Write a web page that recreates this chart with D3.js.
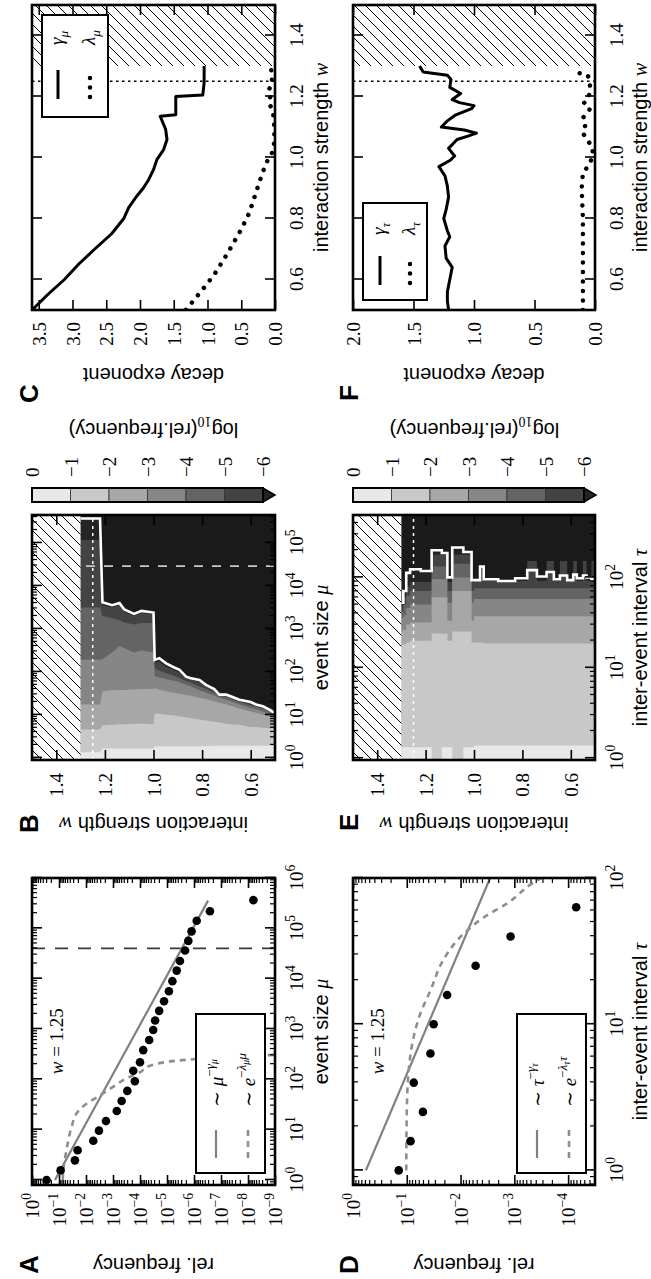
<!DOCTYPE html>
<html lang="en">
<head>
<meta charset="UTF-8">
<title>Event statistics vs interaction strength</title>
<script src="https://d3js.org/d3.v7.min.js"></script>
<style>
  body { margin: 0; background: #fff; }
  .frame { fill: none; stroke: #000; stroke-width: 2.6px; }
</style>
</head>
<body>
<svg id="fig" width="651" height="1279"></svg>
<script>
// ---------------- data (log10 values where noted) ----------------
// A: event size distribution at w = 1.25
const sizeLogMu   = [0.00, 0.19, 0.39, 0.59, 0.78, 0.98, 1.17, 1.37, 1.57, 1.77, 1.96, 2.17, 2.34, 2.58, 2.78,
                     2.98, 3.17, 3.36, 3.55, 3.75, 3.95, 4.16, 4.35, 4.56, 4.75, 4.94, 5.15, 5.34, 5.56];
const sizeLogFreq = [-0.54, -1.06, -1.59, -1.69, -2.27, -2.48, -2.74, -3.14, -3.32, -3.53, -3.81, -3.75, -4.00, -4.12, -4.34,
                     -4.49, -4.56, -4.71, -4.89, -5.07, -5.20, -5.36, -5.48, -5.67, -5.79, -5.91, -6.10, -6.59, -8.20];
const sizePowFitX = [0.0, 5.55];
const sizePowFitY = [-0.85, -6.52];
const sizeExpFitX = [0.0, 0.21, 0.6, 1.06, 1.33, 1.52, 1.68, 1.85, 2.02, 2.14, 2.27, 2.4, 2.5];
const sizeExpFitY = [-1.14, -1.16, -1.28, -1.47, -1.66, -2.03, -2.52, -3.0, -3.5, -4.0, -4.37, -6.0, -9.5];
const sizeCutA = 4.6;

// D: inter-event interval distribution at w = 1.25
const ivLogTau  = [0.0, 0.2, 0.4, 0.6, 0.8, 1.0, 1.2, 1.4, 1.6, 1.8];
const ivLogFreq = [-0.85, -1.07, -1.30, -1.13, -1.44, -1.50, -1.75, -2.28, -2.93, -4.15];
const ivPowFitX = [0.0, 2.0];
const ivPowFitY = [-0.24, -2.55];
const ivExpFitX = [0.0, 0.4, 0.7, 0.9, 1.07, 1.23, 1.44, 1.62, 1.73, 1.83, 1.97, 2.0];
const ivExpFitY = [-0.99, -1.0, -1.04, -1.12, -1.25, -1.44, -1.68, -2.06, -2.43, -2.88, -3.36, -3.5];

// C: decay exponents of event size distribution
const wGammaMu = [0.50, 0.55, 0.60, 0.65, 0.70, 0.75, 0.80, 0.835, 0.873, 0.90, 0.928, 0.96, 0.993, 1.026,
                  1.059, 1.092, 1.119, 1.135, 1.14, 1.20, 1.205, 1.245, 1.30];
const gammaMu  = [3.60, 3.37, 3.12, 2.91, 2.67, 2.42, 2.24, 2.17, 2.05, 1.95, 1.87, 1.80, 1.75, 1.65,
                  1.60, 1.62, 1.67, 1.70, 1.47, 1.47, 1.07, 1.05, 1.05];
const wLambdaMu = [0.50, 0.56, 0.616, 0.687, 0.764, 0.819, 0.873, 0.94, 0.983, 1.01, 1.05, 1.10, 1.15, 1.18,
                   1.20, 1.22, 1.24, 1.27, 1.30];
const lambdaMu  = [1.32, 1.10, 0.90, 0.70, 0.50, 0.38, 0.30, 0.20, 0.13, 0.05, 0.01, 0.01, 0.03, 0.09,
                   0.07, 0.10, 0.04, 0.05, 0.06];

// F: decay exponents of inter-event interval distribution
const wGammaTau = [0.50, 0.53, 0.56, 0.60, 0.64, 0.67, 0.71, 0.74, 0.76, 0.80, 0.83, 0.87, 0.906, 0.94, 0.97,
                   0.99, 1.005, 1.03, 1.059, 1.07, 1.08, 1.09, 1.10, 1.12, 1.14, 1.16, 1.17, 1.18, 1.19, 1.21,
                   1.23, 1.256, 1.27, 1.28, 1.30];
const gammaTau  = [1.21, 1.22, 1.22, 1.20, 1.18, 1.23, 1.24, 1.20, 1.22, 1.25, 1.23, 1.21, 1.22, 1.24, 1.29,
                   1.20, 1.16, 1.21, 1.14, 1.05, 0.98, 1.08, 1.27, 1.22, 1.15, 1.02, 1.00, 1.12, 1.18, 1.11,
                   1.20, 1.19, 1.22, 1.42, 1.45];
const wLambdaTau = [0.50, 0.60, 0.70, 0.80, 0.90, 0.95, 0.97, 1.00, 1.03, 1.05, 1.08, 1.10, 1.13, 1.16, 1.18,
                    1.20, 1.23, 1.26, 1.27, 1.28];
const lambdaTau  = [0.10, 0.10, 0.10, 0.10, 0.11, 0.10, 0.06, 0.02, 0.02, 0.05, 0.10, 0.08, 0.10, 0.04, 0.09,
                    0.05, 0.04, 0.05, 0.06, 0.17];

// B: log10(event size) where log10(rel. frequency) crosses -1 ... -6, and the white limit line
const wB   = [0.50, 0.523, 0.55, 0.578, 0.60, 0.646, 0.70, 0.729, 0.75, 0.784, 0.811, 0.85, 0.866, 0.893, 0.921,
              0.948, 0.976, 0.995, 1.00, 1.05, 1.08, 1.12, 1.14, 1.17, 1.21, 1.22, 1.26, 1.30];
const muB1 = [0.28, 0.28, 0.28, 0.28, 0.28, 0.28, 0.28, 0.28, 0.28, 0.27, 0.27, 0.27, 0.27, 0.27, 0.27,
              0.27, 0.27, 0.27, 0.22, 0.22, 0.22, 0.22, 0.22, 0.22, 0.22, 0.13, 0.13, 0.13];
const muB2 = [0.68, 0.69, 0.70, 0.72, 0.72, 0.77, 0.79, 0.82, 0.84, 0.87, 0.89, 0.93, 0.94, 0.97, 0.99,
              1.00, 1.02, 1.04, 0.78, 0.80, 0.79, 0.78, 0.78, 0.77, 0.75, 0.66, 0.66, 0.66];
const muB3 = [0.93, 0.96, 1.00, 1.05, 1.08, 1.15, 1.24, 1.28, 1.31, 1.37, 1.40, 1.45, 1.46, 1.49, 1.52,
              1.55, 1.59, 1.62, 1.60, 1.60, 1.59, 1.58, 1.58, 1.57, 1.55, 1.24, 1.24, 1.24];
const muB4 = [1.01, 1.04, 1.08, 1.13, 1.16, 1.24, 1.35, 1.40, 1.45, 1.52, 1.57, 1.67, 1.70, 1.76, 1.80,
              1.83, 1.87, 1.89, 2.45, 2.50, 2.45, 2.55, 2.60, 2.45, 2.30, 2.28, 2.28, 2.28];
const muB5 = [1.06, 1.09, 1.14, 1.19, 1.22, 1.30, 1.41, 1.46, 1.52, 1.60, 1.66, 1.76, 1.78, 1.86, 1.92,
              1.97, 2.03, 2.08, 3.14, 3.14, 3.10, 3.15, 3.20, 3.25, 3.30, 3.50, 3.50, 3.50];
const muB6 = [1.02, 1.10, 1.19, 1.22, 1.27, 1.33, 1.45, 1.47, 1.58, 1.66, 1.76, 1.84, 1.85, 1.98, 2.06,
              2.12, 2.24, 2.22, 3.33, 3.37, 3.30, 3.40, 3.55, 3.50, 3.55, 5.07, 5.07, 5.07];
const muBMax = [1.04, 1.12, 1.20, 1.24, 1.30, 1.35, 1.47, 1.47, 1.60, 1.70, 1.81, 1.86, 1.89, 2.05, 2.12,
                2.20, 2.32, 2.28, 3.38, 3.42, 3.35, 3.45, 3.60, 3.55, 3.62, 5.57, 5.57, 5.57];
const muCutB = 4.46;

// E: same for log10(inter-event interval); each row holds from its w up to the next row
const wE    = [0.50, 0.515, 0.535, 0.55, 0.575, 0.59, 0.615, 0.645, 0.67, 0.70, 0.74, 0.78, 0.83, 0.90, 0.96, 0.975,
               1.00, 1.01, 1.044, 1.09, 1.11, 1.133, 1.175, 1.22, 1.264, 1.28, 1.292, 1.30];
const tauE1 = [0.14, 0.14, 0.14, 0.14, 0.14, 0.14, 0.14, 0.14, 0.14, 0.14, 0.14, 0.14, 0.14, 0.14, 0.14, 0.14,
               0.12, 0.12, -0.1, 0.12, 0.12, -0.1, 0.12, 0.12, 0.12, 0.12, 0.12, 0.12];
const tauE2 = [1.27, 1.27, 1.27, 1.27, 1.27, 1.27, 1.27, 1.27, 1.27, 1.27, 1.27, 1.27, 1.27, 1.27, 1.28, 1.28,
               1.28, 1.40, 1.40, 1.30, 1.38, 1.38, 1.30, 1.30, 1.28, 1.26, 1.25, 1.25];
const tauE3 = [1.57, 1.57, 1.57, 1.57, 1.57, 1.57, 1.57, 1.57, 1.57, 1.57, 1.57, 1.57, 1.57, 1.57, 1.57, 1.57,
               1.52, 1.85, 1.85, 1.52, 1.78, 1.78, 1.50, 1.50, 1.48, 1.42, 1.40, 1.40];
const tauE4 = [1.76, 1.76, 1.76, 1.76, 1.76, 1.76, 1.76, 1.76, 1.76, 1.76, 1.76, 1.76, 1.76, 1.76, 1.76, 1.76,
               1.72, 2.00, 2.00, 1.72, 1.98, 1.98, 1.70, 1.70, 1.66, 1.58, 1.55, 1.55];
const tauE5 = [1.88, 1.88, 1.88, 1.88, 1.88, 1.88, 1.88, 1.88, 1.88, 1.88, 1.88, 1.88, 1.88, 1.88, 1.88, 1.88,
               1.85, 2.15, 2.15, 1.85, 2.12, 2.12, 1.85, 1.85, 1.80, 1.70, 1.62, 1.62];
const tauE6 = [2.18, 1.96, 2.18, 1.96, 2.18, 1.96, 2.18, 1.96, 2.18, 1.96, 2.18, 1.96, 1.96, 1.96, 1.97, 1.96,
               1.95, 2.25, 2.25, 1.95, 2.25, 2.25, 1.95, 1.95, 1.90, 1.78, 1.68, 1.68];
const tauEMax = [1.98, 2.00, 2.02, 1.99, 2.03, 1.97, 2.02, 1.98, 2.06, 2.01, 2.08, 1.99, 1.96, 1.98, 2.12, 1.97,
                 1.97, 2.28, 2.33, 2.00, 2.27, 2.30, 2.07, 2.09, 2.05, 1.85, 1.72, 1.72];

const levelTicks  = [0, -1, -2, -3, -4, -5, -6];
const levelColors = ["#e8e8e8", "#c8c8c8", "#a7a7a7", "#868686", "#646464", "#434343"];
const extColor = "#242424";
const noDataColor = "#1a1a1a";

const wTicks = [0.6, 0.8, 1.0, 1.2, 1.4];

// ---------------- setup ----------------
const SERIF = "'Liberation Serif', 'DejaVu Serif', serif";
const SANS = "'Liberation Sans', Arial, sans-serif";
const FT = 19, FL = 20;

const svg = d3.select("#fig");
const defs = svg.append("defs");
// landscape figure, turned a quarter left onto the portrait page
const root = svg.append("g").attr("transform", "translate(0,1279) rotate(-90)");

defs.append("pattern").attr("id", "hatch")
    .attr("patternUnits", "userSpaceOnUse").attr("width", 11).attr("height", 11)
  .append("path").attr("d", "M-2,2 L2,-2 M0,11 L11,0 M9,13 L13,9")
    .attr("stroke", "#000").attr("stroke-width", 1);

function rich(t, segs, fs) {
    let cur = 0;
    segs.forEach(s => {
        const off = (s.b || 0) * fs;
        t.append("tspan")
            .attr("dy", off - cur)
            .attr("font-size", (s.k || 1) * fs)
            .attr("font-family", s.f || SERIF)
            .attr("font-style", s.i ? "italic" : "normal")
            .text(s.t);
        cur = off;
    });
    return t;
}
const powSegs = v => {
    const e = Math.round(Math.log10(v));
    return [{ t: "10" }, { t: (e < 0 ? "\u2212" : "") + Math.abs(e), k: 0.72, b: -0.42 }];
};
const numSegs = v => [{ t: d3.format(".1f")(v) }];

let clipN = 0;
function makePanel(x, y) {
    const [x0, x1] = x.range(), [y1, y0] = y.range();
    const id = "clip" + (clipN++);
    defs.append("clipPath").attr("id", id).append("rect")
        .attr("x", x0).attr("y", y0).attr("width", x1 - x0).attr("height", y1 - y0);
    const g = root.append("g");
    const plot = g.append("g").attr("clip-path", `url(#${id})`);
    return { g, plot, x, y, x0, x1, y0, y1 };
}

function splitLog(s) {
    const t = s.ticks();
    const major = t.filter(v => Math.abs(Math.log10(v) - Math.round(Math.log10(v))) < 1e-6);
    return [major, t.filter(v => !major.includes(v))];
}

function drawAxes(p, o) {
    const sides = [
        { ax: d3.axisBottom(p.x), tr: `translate(0,${p.y1})`, t: o.xt, m: o.xm, lab: o.xl, pos: "b" },
        { ax: d3.axisTop(p.x), tr: `translate(0,${p.y0})`, t: o.xt, m: o.xm },
        { ax: d3.axisLeft(p.y), tr: `translate(${p.x0},0)`, t: o.yt, m: o.ym, lab: o.yl, pos: "l" },
        { ax: d3.axisRight(p.y), tr: `translate(${p.x1},0)`, t: o.yt, m: o.ym }
    ];
    sides.forEach(s => {
        if (s.m && s.m.length) {
            const mg = p.g.append("g").attr("transform", s.tr)
                .call(s.ax.tickValues(s.m).tickSize(-5).tickFormat(""));
            mg.select(".domain").remove();
            mg.selectAll("line").attr("stroke-width", 1.2).attr("stroke", "#000");
        }
        const a = p.g.append("g").attr("transform", s.tr)
            .call(s.ax.tickValues(s.t).tickSize(-10).tickFormat(""));
        a.select(".domain").remove();
        a.selectAll("line").attr("stroke-width", 1.6).attr("stroke", "#000");
        if (s.lab) {
            a.selectAll("text").each(function (d) {
                const t = d3.select(this).attr("dy", null).attr("fill", "#000");
                if (s.pos === "b") t.attr("y", 28);
                else t.attr("x", -(o.pad || 12)).attr("y", 6.5);
                rich(t, s.lab(d), FT);
            });
        } else {
            a.selectAll("text").remove();
        }
    });
}

function frame(p) {
    p.g.append("rect").attr("class", "frame")
        .attr("x", p.x0).attr("y", p.y0).attr("width", p.x1 - p.x0).attr("height", p.y1 - p.y0);
}

function xLabel(p, segs, yb) {
    rich(p.g.append("text").attr("x", (p.x0 + p.x1) / 2).attr("y", yb).attr("text-anchor", "middle"), segs, FL);
}
function yLabel(p, segs, xb) {
    rich(p.g.append("text").attr("text-anchor", "middle")
        .attr("transform", `translate(${xb},${(p.y0 + p.y1) / 2}) rotate(-90)`), segs, FL);
}
function panelLetter(L, x, y) {
    root.append("text").attr("x", x).attr("y", y).attr("font-family", SANS)
        .attr("font-weight", "bold").attr("font-size", 26).text(L);
}

const sizeLabel = [{ t: "event size ", f: SANS }, { t: "\u03bc", i: true }];
const tauLabel = [{ t: "inter-event interval ", f: SANS }, { t: "\u03c4", i: true }];
const wLabel = [{ t: "interaction strength ", f: SANS }, { t: "w", i: true }];
const freqLabel = [{ t: "rel. frequency", f: SANS }];
const decayLabel = [{ t: "decay exponent", f: SANS }];

// ---------------- distributions (A, D) ----------------
function distPanel(x, y, dx, dy, powX, powY, expX, expY, sym, legendTop, textPos, cut) {
    const p = makePanel(x, y);
    const lx = v => x(10 ** v), ly = v => y(10 ** v);
    if (cut !== undefined) {
        p.plot.append("line").attr("x1", lx(cut)).attr("x2", lx(cut))
            .attr("y1", p.y0).attr("y2", p.y1)
            .attr("stroke", "#3a3a3a").attr("stroke-width", 1.8).attr("stroke-dasharray", "13 10");
    }
    const line = d3.line().x(d => lx(d[0])).y(d => ly(d[1]));
    p.plot.append("path").datum(d3.zip(powX, powY)).attr("d", line)
        .attr("fill", "none").attr("stroke", "#808080").attr("stroke-width", 2.2);
    p.plot.append("path").datum(d3.zip(expX, expY)).attr("d", line.curve(d3.curveMonotoneX))
        .attr("fill", "none").attr("stroke", "#8e8e8e").attr("stroke-width", 2.6).attr("stroke-dasharray", "6 5");
    p.plot.selectAll("circle").data(d3.zip(dx, dy)).join("circle")
        .attr("cx", d => lx(d[0])).attr("cy", d => ly(d[1])).attr("r", 4.3).attr("fill", "#000");

    p.g.append("text").attr("x", lx(textPos)).attr("y", legendTop - 133)
        .call(t => rich(t, [{ t: "w", i: true }, { t: " = 1.25" }], FT));

    // legend
    const lg = p.g.append("g");
    lg.append("rect").attr("x", 106).attr("y", legendTop).attr("width", 159).attr("height", 69)
        .attr("fill", "#fff").attr("stroke", "#000").attr("stroke-width", 2);
    lg.append("line").attr("x1", 121).attr("x2", 149).attr("y1", legendTop + 20).attr("y2", legendTop + 20)
        .attr("stroke", "#808080").attr("stroke-width", 2.2);
    lg.append("line").attr("x1", 121).attr("x2", 149).attr("y1", legendTop + 52).attr("y2", legendTop + 52)
        .attr("stroke", "#8e8e8e").attr("stroke-width", 2.6).attr("stroke-dasharray", "6 5");
    rich(lg.append("text").attr("x", 172).attr("y", legendTop + 27), [
        { t: "\u223c " }, { t: sym, i: true },
        { t: "\u2212", k: 0.7, b: -0.45 }, { t: "\u03b3", k: 0.7, b: -0.45, i: true }, { t: sym, k: 0.5, b: -0.3, i: true }
    ], FT);
    rich(lg.append("text").attr("x", 172).attr("y", legendTop + 59), [
        { t: "\u223c " }, { t: "e", i: true },
        { t: "\u2212", k: 0.7, b: -0.45 }, { t: "\u03bb", k: 0.7, b: -0.45, i: true }, { t: sym, k: 0.5, b: -0.3, i: true },
        { t: sym, k: 0.7, b: -0.45, i: true }
    ], FT);
    return p;
}

const xA = d3.scaleLog().domain([10 ** -0.1, 1e6]).range([94, 401]);
const yA = d3.scaleLog().domain([1e-9, 1]).range([275, 32]);
const pA = distPanel(xA, yA, sizeLogMu, sizeLogFreq, sizePowFitX, sizePowFitY, sizeExpFitX, sizeExpFitY,
    "\u03bc", 196, 2.1, sizeCutA);
{
    const [xm, xn] = splitLog(xA), [ym, yn] = splitLog(yA);
    drawAxes(pA, { xt: xm, xm: xn, yt: ym, ym: yn, xl: powSegs, yl: powSegs, pad: 8 });
    frame(pA); xLabel(pA, sizeLabel, 328); yLabel(pA, freqLabel, 21);
}

const xD = d3.scaleLog().domain([10 ** -0.1, 100]).range([94, 401]);
const yD = d3.scaleLog().domain([10 ** -4.5, 1]).range([595, 353]);
const pD = distPanel(xD, yD, ivLogTau, ivLogFreq, ivPowFitX, ivPowFitY, ivExpFitX, ivExpFitY,
    "\u03c4", 517, 0.657);
{
    const [xm, xn] = splitLog(xD), [ym, yn] = splitLog(yD);
    drawAxes(pD, { xt: xm, xm: xn, yt: ym, ym: yn, xl: powSegs, yl: powSegs, pad: 8 });
    frame(pD); xLabel(pD, tauLabel, 647); yLabel(pD, freqLabel, 21);
}

// ---------------- heat maps (B, E) ----------------
function heatPanel(x, y, ws, bands, maxLine, curve, cut) {
    const p = makePanel(x, y);
    const lx = v => x(10 ** v);
    p.plot.append("rect").attr("x", p.x0).attr("y", p.y0).attr("width", p.x1 - p.x0).attr("height", p.y1 - p.y0)
        .attr("fill", noDataColor);
    const area = vals => d3.area().curve(curve).y((d, i) => y(ws[i])).x0(p.x0).x1((d, i) => lx(vals[i]))(vals);
    p.plot.append("path").attr("d", area(maxLine)).attr("fill", extColor);
    for (let k = bands.length - 1; k >= 0; k--) {
        p.plot.append("path").attr("d", area(bands[k])).attr("fill", levelColors[k]);
    }
    p.plot.append("path")
        .attr("d", d3.line().curve(curve).y((d, i) => y(ws[i])).x(d => lx(d))(maxLine))
        .attr("fill", "none").attr("stroke", "#fff").attr("stroke-width", 2.6);
    if (cut !== undefined) {
        p.plot.append("line").attr("x1", lx(cut)).attr("x2", lx(cut)).attr("y1", y(0.5)).attr("y2", y(1.3))
            .attr("stroke", "#c8c8c8").attr("stroke-width", 1.6).attr("stroke-dasharray", "9 9");
    }
    p.plot.append("line").attr("x1", p.x0).attr("x2", p.x1).attr("y1", y(1.25)).attr("y2", y(1.25))
        .attr("stroke", "#fff").attr("stroke-width", 1.5).attr("stroke-dasharray", "3 4");
    p.plot.append("rect").attr("x", p.x0).attr("y", y(1.5)).attr("width", p.x1 - p.x0).attr("height", y(1.3) - y(1.5))
        .attr("fill", "#fff");
    p.plot.append("rect").attr("x", p.x0).attr("y", y(1.5)).attr("width", p.x1 - p.x0).attr("height", y(1.3) - y(1.5))
        .attr("fill", "url(#hatch)");
    const [xm, xn] = splitLog(x);
    drawAxes(p, { xt: xm, xm: xn, yt: wTicks, xl: powSegs, yl: numSegs, pad: 13 });
    frame(p);
    return p;
}

function colorbar(y0) {
    const c = d3.scaleLinear().domain([0, -6]).range([y0, y0 + 231]);
    const g = root.append("g");
    const x0 = 777, w = 14;
    g.selectAll("rect").data(levelColors).join("rect")
        .attr("x", x0).attr("y", (d, i) => c(-i)).attr("width", w).attr("height", (d, i) => c(-i - 1) - c(-i))
        .attr("fill", d => d).attr("stroke", "#333").attr("stroke-width", 0.8);
    g.append("path")
        .attr("d", `M${x0},${c(-6)} L${x0 + w},${c(-6)} L${x0 + w / 2},${c(-6) + 12} Z`)
        .attr("fill", extColor).attr("stroke", "#000").attr("stroke-width", 1.5);
    g.append("rect").attr("x", x0).attr("y", c(0)).attr("width", w).attr("height", c(-6) - c(0))
        .attr("fill", "none").attr("stroke", "#000").attr("stroke-width", 2);
    const ax = g.append("g").attr("transform", `translate(${x0 + w},0)`)
        .call(d3.axisRight(c).tickValues(levelTicks).tickSize(0).tickFormat(""));
    ax.select(".domain").remove();
    ax.selectAll("text").each(function (d) {
        const t = d3.select(this).attr("dy", null).attr("x", 11).attr("y", 6.5)
            .attr("text-anchor", "start").attr("fill", "#000");
        rich(t, [{ t: d === 0 ? "0" : "\u2212" + (-d) }], FT);
    });
    rich(g.append("text").attr("text-anchor", "middle")
        .attr("transform", `translate(856,${y0 + 121.5}) rotate(-90)`), [
        { t: "log", f: SANS }, { t: "10", k: 0.7, b: 0.3 }, { t: "(rel.frequency)", f: SANS }
    ], FL);
}

const xB = d3.scaleLog().domain([10 ** -0.05, 10 ** 5.65]).range([519, 764]);
const yB = d3.scaleLinear().domain([0.5, 1.5]).range([275, 32]);
const pB = heatPanel(xB, yB, wB, [muB1, muB2, muB3, muB4, muB5, muB6], muBMax, d3.curveLinear, muCutB);
xLabel(pB, sizeLabel, 328); yLabel(pB, wLabel, 462);
colorbar(32);

const xE = d3.scaleLog().domain([10 ** -0.02, 10 ** 2.69]).range([519, 764]);
const yE = d3.scaleLinear().domain([0.5, 1.5]).range([595, 353]);
const pE = heatPanel(xE, yE, wE, [tauE1, tauE2, tauE3, tauE4, tauE5, tauE6], tauEMax, d3.curveStepBefore);
xLabel(pE, tauLabel, 647); yLabel(pE, wLabel, 462);
colorbar(353);

// ---------------- decay exponents (C, F) ----------------
function expoPanel(y, yt, wg, g, wl, l, sym, box) {
    const x = d3.scaleLinear().domain([0.5, 1.5]).range([969, 1274]);
    const p = makePanel(x, y);
    p.plot.append("rect").attr("x", x(1.3)).attr("y", p.y0).attr("width", x(1.5) - x(1.3)).attr("height", p.y1 - p.y0)
        .attr("fill", "url(#hatch)");
    p.plot.append("line").attr("x1", x(1.25)).attr("x2", x(1.25)).attr("y1", p.y0).attr("y2", p.y1)
        .attr("stroke", "#000").attr("stroke-width", 1.3).attr("stroke-dasharray", "2.5 3.5");
    const line = d3.line().x(d => x(d[0])).y(d => y(d[1]));
    p.plot.append("path").datum(d3.zip(wl, l)).attr("d", line)
        .attr("fill", "none").attr("stroke", "#000").attr("stroke-width", 4.5)
        .attr("stroke-linecap", "round").attr("stroke-dasharray", "0.01 9.5");
    p.plot.append("path").datum(d3.zip(wg, g)).attr("d", line)
        .attr("fill", "none").attr("stroke", "#000").attr("stroke-width", 3).attr("stroke-linejoin", "round");
    drawAxes(p, { xt: wTicks, yt: yt, xl: numSegs, yl: numSegs, pad: 12 });
    frame(p);
    // legend
    const lg = p.g.append("g");
    lg.append("rect").attr("x", box.x).attr("y", box.y).attr("width", box.w).attr("height", box.h)
        .attr("fill", "#fff").attr("stroke", "#000").attr("stroke-width", 2);
    lg.append("line").attr("x1", box.hx).attr("x2", box.hx + 29).attr("y1", box.e1).attr("y2", box.e1)
        .attr("stroke", "#000").attr("stroke-width", 3);
    lg.append("line").attr("x1", box.hx + 2).attr("x2", box.hx + 29).attr("y1", box.e2).attr("y2", box.e2)
        .attr("stroke", "#000").attr("stroke-width", 4.5).attr("stroke-linecap", "round").attr("stroke-dasharray", "0.01 9.5");
    rich(lg.append("text").attr("x", box.tx).attr("y", box.e1 + 5),
        [{ t: "\u03b3", i: true }, { t: sym, k: 0.7, b: 0.25, i: true }], FT);
    rich(lg.append("text").attr("x", box.tx).attr("y", box.e2 + 5),
        [{ t: "\u03bb", i: true }, { t: sym, k: 0.7, b: 0.25, i: true }], FT);
    return p;
}

const yC = d3.scaleLinear().domain([0, 3.6]).range([275, 32]);
const pC = expoPanel(yC, d3.range(0, 3.51, 0.5), wGammaMu, gammaMu, wLambdaMu, lambdaMu, "\u03bc",
    { x: 1162, y: 42, w: 102, h: 66, hx: 1180, e1: 58, e2: 90, tx: 1234 });
xLabel(pC, wLabel, 328); yLabel(pC, decayLabel, 911);

const yF = d3.scaleLinear().domain([0, 2]).range([595, 353]);
const pF = expoPanel(yF, d3.range(0, 2.01, 0.5), wGammaTau, gammaTau, wLambdaTau, lambdaTau, "\u03c4",
    { x: 979, y: 363, w: 97, h: 64, hx: 994, e1: 380, e2: 410, tx: 1044 });
xLabel(pF, wLabel, 647); yLabel(pF, decayLabel, 911);

panelLetter("A", 5, 38); panelLetter("B", 446, 38); panelLetter("C", 876, 38);
panelLetter("D", 5, 358); panelLetter("E", 448, 358); panelLetter("F", 878, 358);
</script>
</body>
</html>
